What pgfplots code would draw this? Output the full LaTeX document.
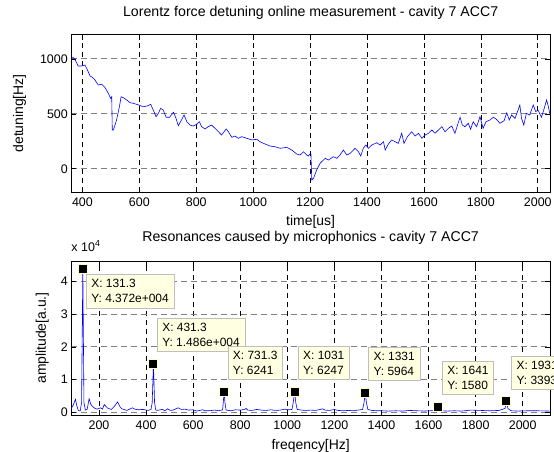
\documentclass[border=0pt]{standalone}
\usepackage{pgfplots}
\pgfplotsset{compat=1.18}
\usepackage{fontspec}
\setmainfont{Liberation Sans}
\definecolor{tipfill}{RGB}{255,255,225}
\definecolor{tipedge}{RGB}{190,190,190}
\definecolor{markedge}{RGB}{255,255,200}

\pgfplotsset{
  matlab/.style={
    scale only axis,
    width=478.7bp,
    axis line style={black, line width=0.8bp},
    tick align=inside,
    major tick length=5bp,
    tick style={black, line width=0.6bp},
    grid=major,
    x grid style={black, dash pattern=on 5bp off 4bp, line width=0.6bp},
    y grid style={gray, dash pattern=on 6bp off 4bp, line width=1bp},
    ticklabel style={font=\fontsize{12.5}{14}\selectfont},
    xticklabel style={yshift=-2bp},
    scaled ticks=false,
    /pgf/number format/assume math mode=true,
    /pgf/number format/1000 sep={},
    label style={font=\fontsize{14}{16}\selectfont},
    title style={font=\fontsize{14.2}{16}\selectfont, at={(axis description cs:0.5,1)}, anchor=base},
    xlabel style={at={(axis description cs:0.5,0)}, anchor=center, yshift=-30bp},
  },
}
\tikzset{
  tip/.style={draw=tipedge, fill=tipfill, align=left, inner xsep=5bp, inner ysep=5bp,
    font=\fontsize{12}{15}\selectfont, anchor=north west},
}

\begin{document}
\begin{tikzpicture}
% upper panel: detuning over time
\begin{axis}[matlab,
  at={(0,0)}, anchor=south west,
  height=157.3bp,
  xmin=361, xmax=2043, ymin=-212, ymax=1221,
  xtick={400,600,...,2000}, ytick={0,500,1000},
  title={Lorentz force detuning online measurement - cavity 7 ACC7},
  title style={yshift=12bp},
  xlabel={time[us]}, ylabel={detuning[Hz]},
  ylabel style={at={(axis description cs:-0.108,0.5)}, anchor=center},
]
\addplot[blue, line width=0.6bp] coordinates {
(361,1010) (368,1012) (374,997) (385,936) (397,936) (409,945) (415,915) (427,845)
(435,833) (444,808) (456,763) (468,769) (479,742) (491,687) (499,642) (503,656)
(505,353) (509,353) (520,444) (530,565) (536,656) (544,647) (556,626) (567,602)
(579,596) (597,581) (614,565) (628,572) (640,587) (649,535) (659,474) (667,505)
(675,550) (684,535) (694,469) (706,469) (720,514) (729,459) (737,392) (745,428)
(757,490) (767,428) (778,398) (790,389) (802,407) (811,428) (819,383) (831,362)
(842,383) (854,398) (866,368) (878,337) (889,307) (905,362) (913,337) (925,286)
(936,298) (948,277) (960,292) (978,277) (995,262) (1013,268) (1024,246) (1042,225)
(1059,207) (1077,200) (1095,186) (1118,195) (1136,170) (1153,134) (1165,125) (1177,155)
(1188,125) (1194,116) (1200,134) (1203,134) (1206,-103) (1212,-88) (1223,-12) (1235,49)
(1253,95) (1264,79) (1282,109) (1294,95) (1305,125) (1317,170) (1329,125) (1341,140)
(1358,186) (1370,155) (1378,116) (1387,186) (1396,216) (1405,186) (1417,216) (1434,237)
(1446,216) (1458,246) (1464,170) (1475,225) (1487,262) (1499,246) (1510,231) (1522,323)
(1530,231) (1542,292) (1557,337) (1569,298) (1581,323) (1593,277) (1604,307) (1616,323)
(1628,353) (1639,323) (1651,353) (1663,383) (1674,337) (1686,368) (1698,389) (1709,323)
(1718,398) (1727,469) (1735,398) (1744,383) (1756,414) (1764,359) (1773,428) (1785,383)
(1797,474) (1808,368) (1818,428) (1832,444) (1844,469) (1855,450) (1867,414) (1882,438)
(1891,510) (1900,444) (1908,490) (1920,459) (1931,535) (1937,581) (1943,459) (1951,398)
(1960,505) (1972,490) (1984,581) (1993,520) (2001,535) (2013,469) (2021,535) (2031,626)
(2036,581) (2045,469)
};
\end{axis}

% lower panel: spectrum
\begin{axis}[matlab,
  at={(0,-223bp)}, anchor=south west,
  height=154bp,
  clip=false,
  xmin=82.3, xmax=2116, ymin=-800, ymax=46300,
  xtick={200,400,...,2000},
  ytick={0,10000,20000,30000,40000}, yticklabels={0,1,2,3,4},
  title={Resonances caused by microphonics - cavity 7 ACC7},
  title style={yshift=13.3bp},
  xlabel={freqency[Hz]}, ylabel={amplitude[a.u.]},
  xlabel style={yshift=-1bp},
  ylabel style={at={(axis description cs:-0.0604,0.5)}, anchor=center},
]
\addplot[blue, line width=0.6bp] coordinates {
(82,1100) (92,2500) (100,4000) (106,2000) (112,600) (120,400) (126,3000) (131.3,43720)
(136,3000) (142,700) (150,1000) (158,4200) (165,2500) (173,1800) (183,1200) (193,1000)
(207,1400) (215,1000) (222,2400) (230,1800) (237,1300) (252,900) (265,1800) (279,3200)
(290,1600) (297,1100) (319,600) (330,1000) (342,1400) (352,1000) (364,800) (387,900)
(409,600) (421,900) (426,3000) (431.3,14860) (436,3000) (441,800) (446,600) (469,900)
(480,500) (491,1100) (503,600) (514,700) (536,1400) (550,900) (565,1000) (580,700)
(600,800) (615,400) (640,800) (650,500) (670,500) (690,700) (710,500) (725,800)
(728,3000) (731.3,6241) (735,3000) (740,700) (760,500) (780,800) (800,700) (818,900)
(825,1200) (832,700) (850,600) (870,900) (890,700) (910,600) (930,800) (950,600)
(970,700) (990,1000) (1005,800) (1020,900) (1025,3000) (1031,6247) (1036,3000) (1042,900)
(1060,700) (1080,600) (1100,700) (1120,600) (1140,900) (1150,1100) (1160,700) (1180,600)
(1200,900) (1215,600) (1240,500) (1260,600) (1280,500) (1300,700) (1320,900) (1326,3000)
(1331,5964) (1336,3000) (1342,900) (1360,600) (1380,500) (1400,500) (1430,400) (1460,500)
(1490,400) (1520,600) (1550,500) (1580,400) (1610,500) (1630,600) (1641,1580) (1650,500)
(1680,400) (1710,500) (1740,400) (1780,700) (1820,600) (1860,500) (1900,600) (1925,1200)
(1931,3393) (1937,1200) (1950,500) (1980,400) (2020,500) (2060,500) (2116,400)
};
% data tip markers
\addplot[only marks, mark=square*, mark size=4.5bp,
  mark options={fill=black, draw=markedge, line width=1bp}] coordinates {
(131.3,43720) (431.3,14860) (731.3,6241) (1031,6247) (1331,5964) (1641,1580) (1931,3393)
};
\node[tip] at (axis cs:145.2,42270) {X: 131.3\\Y: 4.372e+004};
\node[tip] at (axis cs:446.8,28970) {X: 431.3\\Y: 1.486e+004};
\node[tip] at (axis cs:747.1,20310) {X: 731.3\\Y: 6241};
\node[tip] at (axis cs:1045.3,20310) {X: 1031\\Y: 6247};
\node[tip] at (axis cs:1344.4,20090) {X: 1331\\Y: 5964};
\node[tip] at (axis cs:1657.9,15710) {X: 1641\\Y: 1580};
\node[tip] at (axis cs:1951.9,17240) {X: 1931\\Y: 3393};
\node[anchor=base west, font=\fontsize{12.5}{14}\selectfont, inner sep=0pt]
  at ([yshift=10bp]rel axis cs:0,1) {x 10\textsuperscript{4}};
\end{axis}
\pgfresetboundingbox
\path[use as bounding box] (-71.3bp,-260bp) rectangle (482.7bp,192bp);
\end{tikzpicture}
\end{document}
